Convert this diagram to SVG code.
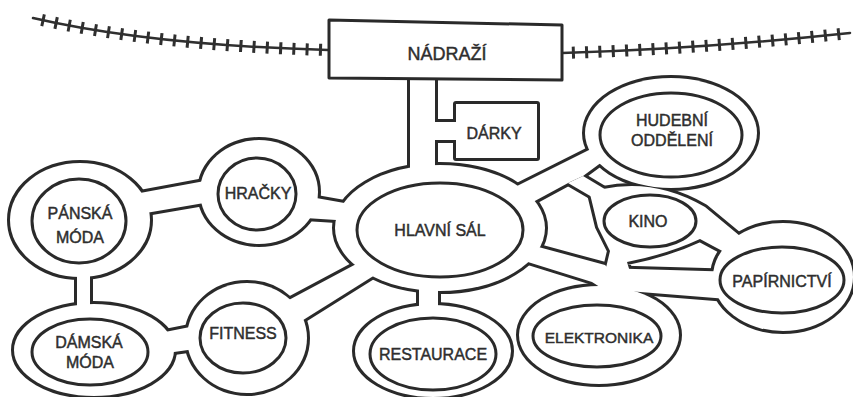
<svg xmlns="http://www.w3.org/2000/svg" width="853" height="397" viewBox="0 0 853 397">
<style>
.bg{fill:#fff}
.wall-stroke{fill:#fff;stroke:#2a2a2a;stroke-width:6;stroke-linejoin:round}
.wall-fill{fill:#fff;stroke:none}
.room{fill:#fff;stroke:#2a2a2a;stroke-width:3}
.box{fill:#fff;stroke:#2a2a2a;stroke-width:3;stroke-linejoin:round}
.rail{fill:none;stroke:#2f2f2f;stroke-width:2.5;stroke-linecap:round}
.ties{fill:none;stroke:#2f2f2f;stroke-width:12;stroke-dasharray:3 10.3}
text{font-family:"Liberation Sans",Arial,sans-serif;font-size:16px;fill:#2e2e2e;stroke:#2e2e2e;stroke-width:0.45;text-anchor:middle}
</style>
<defs>
  <g id="walkable">
    <g id="connectors">
      <rect id="c-station-hall" x="410" y="70" width="25" height="105"/>
      <rect id="c-darky-door" x="430" y="122" width="30" height="18"/>
      <polygon id="c-hall-hudebni" points="505,192 595,147 602,162 583,176 570,182 520,209"/>
      <polygon id="c-hudebni-kino" points="568,183 583,176 608,191 592,197"/>
      <polygon id="c-hall-junction" points="520,242 605,265 612,272 603,289 592,282 515,258"/>
      <polygon id="c-junction-papirnictvi" points="600,268 740,272 740,300 603,289"/>
      <rect id="c-hall-restaurace" x="419" y="280" width="19" height="32"/>
      <polygon id="c-hall-fitness" points="285,302 360,262 375,275 300,322"/>
      <polygon id="c-hall-hracky" points="305,196 350,204 352,221 305,218"/>
      <polygon id="c-panska-hracky" points="140,193 210,180 210,202 140,214"/>
      <rect id="c-panska-damska" x="77" y="268" width="13" height="42"/>
      <polygon id="c-damska-fitness" points="160,333 195,326 195,349 160,354"/>
    </g>
    <g id="rings">
      <ellipse id="r-hall" cx="440" cy="228" rx="105" ry="63"/>
      <rect id="r-darky" x="456" y="104" width="81" height="54"/>
      <ellipse id="r-hudebni" cx="671" cy="133" rx="86" ry="55"/>
      <path id="r-kino" d="M590,194 L603,189 Q655,178 705,207 L740,236 L730,255 L713,246 L700,239 Q668,254 627,262 L630,272 L605,272 L610,251 L598,227 Z"/>
      <ellipse id="r-papirnictvi" cx="783" cy="277" rx="70" ry="54"/>
      <ellipse id="r-elektronika" cx="599" cy="335" rx="80" ry="49"/>
      <ellipse id="r-restaurace" cx="433" cy="351" rx="78" ry="46"/>
      <ellipse id="r-fitness" cx="247" cy="338" rx="60" ry="55"/>
      <ellipse id="r-damska" cx="94" cy="350" rx="80" ry="46"/>
      <ellipse id="r-panska" cx="80" cy="220" rx="70" ry="57"/>
      <ellipse id="r-hracky" cx="259" cy="192" rx="59" ry="52"/>
    </g>
  </g>
</defs>
<rect class="bg" x="0" y="0" width="853" height="397"/>
<g id="railway">
  <path class="ties" d="M33,18 Q150,45 328,50" stroke-dashoffset="4.3"/>
  <path class="rail" d="M33,18 Q150,45 328,50"/>
  <path class="ties" d="M562,53 Q700,49 850,33" stroke-dashoffset="3.3"/>
  <path class="rail" d="M562,53 Q700,49 850,33"/>
</g>
<use href="#walkable" class="wall-stroke"/>
<use href="#walkable" class="wall-fill"/>
<g id="node-nadrazi">
  <polygon class="box" points="329,20 562,25 562,80 329,78"/>
  <text x="447" y="59.5" style="font-size:18px">NÁDRAŽÍ</text>
</g>
<g id="node-darky">
  <text x="494" y="138.5">DÁRKY</text>
</g>
<g id="node-hlavni-sal">
  <ellipse class="room" cx="440" cy="230" rx="83" ry="47"/>
  <text x="440" y="236">HLAVNÍ SÁL</text>
</g>
<g id="node-hracky">
  <ellipse class="room" cx="257" cy="194" rx="39" ry="36"/>
  <text x="258" y="199">HRAČKY</text>
</g>
<g id="node-panska-moda">
  <ellipse class="room" cx="79" cy="221" rx="47" ry="42"/>
  <text x="80" y="218.5">PÁNSKÁ</text>
  <text x="80" y="242.5">MÓDA</text>
</g>
<g id="node-damska-moda">
  <ellipse class="room" cx="90" cy="352" rx="58" ry="33"/>
  <text x="89" y="347.5">DÁMSKÁ</text>
  <text x="90" y="368">MÓDA</text>
</g>
<g id="node-fitness">
  <ellipse class="room" cx="243" cy="338" rx="43" ry="35"/>
  <text x="243" y="338.5">FITNESS</text>
</g>
<g id="node-restaurace">
  <ellipse class="room" cx="433" cy="354" rx="63" ry="36"/>
  <text x="433" y="360">RESTAURACE</text>
</g>
<g id="node-elektronika">
  <ellipse class="room" cx="597" cy="336" rx="64" ry="31"/>
  <text x="599" y="343" style="font-size:15.5px">ELEKTRONIKA</text>
</g>
<g id="node-papirnictvi">
  <ellipse class="room" cx="782" cy="280" rx="62" ry="33"/>
  <text x="782" y="287">PAPÍRNICTVÍ</text>
</g>
<g id="node-kino">
  <ellipse class="room" cx="650" cy="221" rx="46" ry="26"/>
  <text x="648" y="227">KINO</text>
</g>
<g id="node-hudebni-oddeleni">
  <ellipse class="room" cx="671" cy="135" rx="71" ry="42"/>
  <text x="672" y="125.5">HUDEBNÍ</text>
  <text x="672" y="146">ODDĚLENÍ</text>
</g>
</svg>
